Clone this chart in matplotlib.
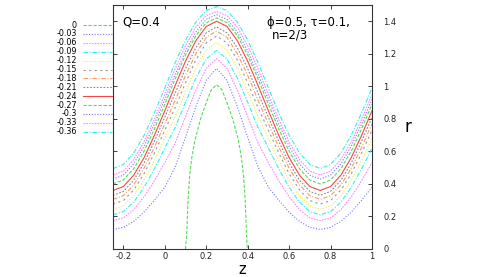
import numpy as np
import matplotlib.pyplot as plt

plt.rcParams['font.family'] = ['DejaVu Sans']
plt.rcParams['axes.unicode_minus'] = False

# Streamlines r(z) for each stream function value
z = np.linspace(-0.25, 1.0, 26)

labels = ['0', '-0.03', '-0.06', '-0.09', '-0.12', '-0.15', '-0.18',
          '-0.21', '-0.24', '-0.27', '-0.3', '-0.33', '-0.36']

# psi = 0 : trapped bolus boundary
z_bolus = [0.100, 0.106, 0.112, 0.120, 0.130, 0.146, 0.170, 0.200, 0.225, 0.250,
           0.275, 0.300, 0.330, 0.355, 0.370, 0.380, 0.388, 0.394, 0.398]
r_bolus = [0.0, 0.10, 0.30, 0.45, 0.56, 0.67, 0.79, 0.90, 0.98, 1.01,
           0.98, 0.90, 0.79, 0.67, 0.56, 0.45, 0.30, 0.10, 0.0]

r_m003 = [0.12, 0.133, 0.17, 0.227, 0.30, 0.38, 0.504, 0.687, 0.876, 1.037, 1.11, 1.037, 0.876,
          0.687, 0.504, 0.38, 0.30, 0.227, 0.17, 0.133, 0.12, 0.133, 0.17, 0.227, 0.30, 0.38]
r_m006 = [0.174, 0.191, 0.242, 0.321, 0.42, 0.53, 0.652, 0.815, 0.977, 1.111, 1.17, 1.111, 0.977,
          0.815, 0.652, 0.53, 0.42, 0.321, 0.242, 0.191, 0.174, 0.191, 0.242, 0.321, 0.42, 0.53]
r_m009 = [0.21, 0.23, 0.288, 0.379, 0.493, 0.62, 0.747, 0.902, 1.051, 1.169, 1.22, 1.169, 1.051,
          0.902, 0.747, 0.62, 0.493, 0.379, 0.288, 0.23, 0.21, 0.23, 0.288, 0.379, 0.493, 0.62]
r_m012 = [0.244, 0.265, 0.327, 0.424, 0.545, 0.68, 0.813, 0.967, 1.112, 1.223, 1.27, 1.223, 1.112,
          0.967, 0.813, 0.68, 0.545, 0.424, 0.327, 0.265, 0.244, 0.265, 0.327, 0.424, 0.545, 0.68]
r_m015 = [0.276, 0.298, 0.363, 0.463, 0.59, 0.73, 0.869, 1.022, 1.162, 1.267, 1.31, 1.267, 1.162,
          1.022, 0.869, 0.73, 0.59, 0.463, 0.363, 0.298, 0.276, 0.298, 0.363, 0.463, 0.59, 0.73]
r_m018 = [0.305, 0.328, 0.394, 0.497, 0.626, 0.77, 0.914, 1.067, 1.201, 1.301, 1.34, 1.301, 1.201,
          1.067, 0.914, 0.77, 0.626, 0.497, 0.394, 0.328, 0.305, 0.328, 0.394, 0.497, 0.626, 0.77]
r_m021 = [0.33, 0.354, 0.422, 0.528, 0.662, 0.81, 0.958, 1.109, 1.237, 1.329, 1.365, 1.329, 1.237,
          1.109, 0.958, 0.81, 0.662, 0.528, 0.422, 0.354, 0.33, 0.354, 0.422, 0.528, 0.662, 0.81]
r_m024 = [0.36, 0.384, 0.454, 0.562, 0.699, 0.85, 1.005, 1.155, 1.281, 1.368, 1.40, 1.368, 1.281,
          1.155, 1.005, 0.85, 0.699, 0.562, 0.454, 0.384, 0.36, 0.384, 0.454, 0.562, 0.699, 0.85]
r_m027 = [0.40, 0.424, 0.494, 0.602, 0.739, 0.89, 1.046, 1.193, 1.312, 1.391, 1.42, 1.391, 1.312,
          1.193, 1.046, 0.89, 0.739, 0.602, 0.494, 0.424, 0.40, 0.424, 0.494, 0.602, 0.739, 0.89]
r_m030 = [0.43, 0.454, 0.524, 0.632, 0.769, 0.92, 1.073, 1.217, 1.334, 1.412, 1.44, 1.412, 1.334,
          1.217, 1.073, 0.92, 0.769, 0.632, 0.524, 0.454, 0.43, 0.454, 0.524, 0.632, 0.769, 0.92]
r_m033 = [0.455, 0.479, 0.55, 0.659, 0.797, 0.95, 1.108, 1.25, 1.363, 1.435, 1.46, 1.435, 1.363,
          1.25, 1.108, 0.95, 0.797, 0.659, 0.55, 0.479, 0.455, 0.479, 0.55, 0.659, 0.797, 0.95]
r_m036 = [0.495, 0.519, 0.59, 0.699, 0.837, 0.99, 1.145, 1.284, 1.395, 1.466, 1.49, 1.466, 1.395,
          1.284, 1.145, 0.99, 0.837, 0.699, 0.59, 0.519, 0.495, 0.519, 0.59, 0.699, 0.837, 0.99]

curvas = [r_m003, r_m006, r_m009, r_m012, r_m015, r_m018, r_m021,
          r_m024, r_m027, r_m030, r_m033, r_m036]

# estilos no jeito do gnuplot
cores = ['#55dd55', '#7777ff', '#ff88ff', '#33eeee', '#eeee33', '#999999', '#ff9966',
         '#888888', '#ff4444', '#55dd55', '#7777ff', '#ff88ff', '#33eeee']
tracos = [(3, 1.5), (1, 1.5), (1.5, 1), (4, 1.5, 1, 1.5), (1, 1.5), (2, 3), (4, 1.5, 1, 1.5),
          (1.5, 1.5), None, (3, 1.5), (1, 1.5), (1.5, 1), (4, 1.5, 1, 1.5)]

fig = plt.figure(figsize=(4.85, 2.77), dpi=100)
ax = fig.add_axes([113/485, 28/277, 259/485, 244/277])

def desenha(xs, ys, i, **kw):
    linha, = ax.plot(xs, ys, color=cores[i], lw=0.8, **kw)
    if tracos[i] is not None:
        linha.set_dashes(tracos[i])
    return linha

desenha(z_bolus, r_bolus, 0)
for i, r in enumerate(curvas):
    desenha(z, r, i + 1)

ax.set_xlim(-0.25, 1.0)
ax.set_ylim(0, 1.5)
ax.set_xticks([-0.2, 0, 0.2, 0.4, 0.6, 0.8, 1.0])
ax.set_xticklabels(['-0.2', '0', '0.2', '0.4', '0.6', '0.8', '1'])
ax.set_yticks([0, 0.2, 0.4, 0.6, 0.8, 1.0, 1.2, 1.4])
ax.set_yticklabels(['0', '0.2', '0.4', '0.6', '0.8', '1', '1.2', '1.4'])
ax.tick_params(direction='in', length=3, width=0.6, top=True, right=True, left=True,
               labelleft=False, labelright=True, labelsize=6, colors='#222222')
ax.tick_params(axis='x', pad=2.5)
ax.tick_params(axis='y', pad=8)
for s in ax.spines.values():
    s.set_linewidth(0.8)
    s.set_color('#333333')

ax.set_xlabel('z', fontsize=10.5, va='bottom')
ax.xaxis.set_label_coords(0.5, -0.114)
ax.yaxis.set_label_position('right')
ax.set_ylabel('r', fontsize=12, rotation=0, labelpad=8, va='center')

ax.text(0.035, 0.93, 'Q=0.4', transform=ax.transAxes, fontsize=8.5, va='center')
ax.text(0.595, 0.93, 'ϕ=0.5, τ=0.1,', transform=ax.transAxes, fontsize=8.5, va='center')
ax.text(0.615, 0.875, 'n=2/3', transform=ax.transAxes, fontsize=8.5, va='center')

# legenda manual a esquerda do eixo
for i, lab in enumerate(labels):
    yl = (249 - (25 + 8.9 * i)) / 244
    ax.text(-0.139, yl, lab, transform=ax.transAxes, fontsize=5.8, ha='right', va='center')
    ll, = ax.plot([-0.116, -0.004], [yl, yl], transform=ax.transAxes, clip_on=False,
                  color=cores[i], lw=0.8)
    if tracos[i] is not None:
        ll.set_dashes(tracos[i])

fig.savefig('out.png', dpi=100)
